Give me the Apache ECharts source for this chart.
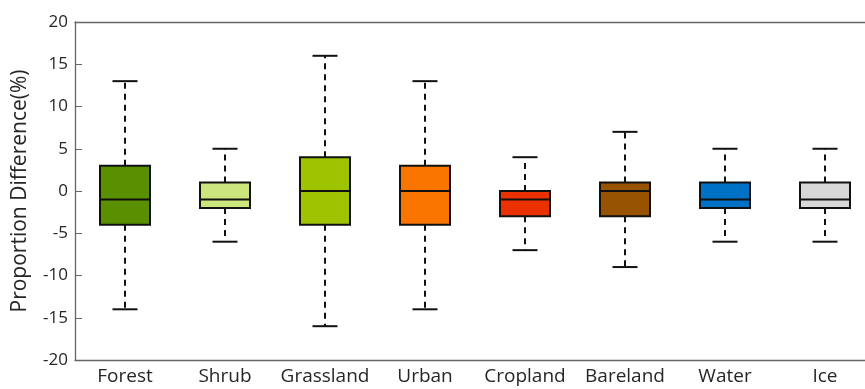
<!DOCTYPE html>
<html><head><meta charset="utf-8">
<script src="https://cdn.jsdelivr.net/npm/echarts@6/dist/echarts.min.js"></script>
<style>html,body{margin:0;padding:0;background:#fff}#c{width:865px;height:389px}</style>
</head><body><div id="c"></div>
<script>
const categories = ['Forest','Shrub','Grassland','Urban','Cropland','Bareland','Water','Ice'];
const minVals    = [-14, -6, -16, -14, -7, -9, -6, -6];
const q1Vals     = [-4, -2, -4, -4, -3, -3, -2, -2];
const medianVals = [-1, -1, 0, 0, -1, 0, -1, -1];
const q3Vals     = [3, 1, 4, 3, 0, 1, 1, 1];
const maxVals    = [13, 5, 16, 13, 4, 7, 5, 5];
const colors     = ['#5a9000','#cce67d','#9ec400','#fa7400','#ec3100','#975300','#0072c6','#d8d8d8'];
const yTicks     = [-20,-15,-10,-5,0,5,10,15,20];

const data = categories.map((c,i)=>[i,minVals[i],q1Vals[i],medianVals[i],q3Vals[i],maxVals[i]]);
const FONT = 'Open Sans';
const chart = echarts.init(document.getElementById('c'));
chart.setOption({
  animation:false,
  grid:{left:75,right:-10,top:22,bottom:29,containLabel:false,outerBoundsMode:'none'},
  xAxis:[{
    type:'category',data:categories,position:'bottom',
    axisLine:{onZero:false,lineStyle:{color:'#666',width:1.3}},
    axisTick:{inside:true,length:7,alignWithLabel:true,lineStyle:{color:'#666'}},
    axisLabel:{color:'#262626',fontFamily:FONT,fontSize:19,margin:7,interval:0,hideOverlap:false},
    splitLine:{show:false}
  },{
    type:'category',data:categories,position:'top',
    axisLine:{onZero:false,lineStyle:{color:'#666',width:1.3}},
    axisTick:{inside:true,length:7,alignWithLabel:true,lineStyle:{color:'#666'}},
    axisLabel:{show:false},splitLine:{show:false}
  }],
  yAxis:{
    type:'value',min:-20,max:20,interval:5,
    name:'Proportion Difference(%)',nameLocation:'middle',nameGap:44,
    nameTextStyle:{color:'#262626',fontFamily:FONT,fontSize:21},
    axisLine:{show:true,lineStyle:{color:'#666',width:1.3}},
    axisTick:{show:true,inside:true,length:7,lineStyle:{color:'#666'}},
    axisLabel:{color:'#262626',fontFamily:FONT,fontSize:17,margin:7,
      formatter:v=>yTicks.includes(v)?String(v):''},
    splitLine:{show:false}
  },
  series:[{
    type:'custom',
    data:data,
    encode:{x:0,y:[1,2,3,4,5]},
    renderItem:function(params,api){
      const i=api.value(0);
      const bw=api.size([1,0])[0];
      const pMin=api.coord([i,api.value(1)]);
      const pQ1=api.coord([i,api.value(2)]);
      const pMed=api.coord([i,api.value(3)]);
      const pQ3=api.coord([i,api.value(4)]);
      const pMax=api.coord([i,api.value(5)]);
      const x=pMin[0];
      const hw=bw*0.25, cw=bw*0.125;
      const dash={stroke:'#111',lineWidth:2,lineDash:[6,5]};
      const solid={stroke:'#111',lineWidth:2};
      return {type:'group',children:[
        {type:'line',shape:{x1:x,y1:pQ3[1],x2:x,y2:pMax[1]},style:dash},
        {type:'line',shape:{x1:x,y1:pQ1[1],x2:x,y2:pMin[1]},style:dash},
        {type:'line',shape:{x1:x-cw,y1:pMax[1],x2:x+cw,y2:pMax[1]},style:solid},
        {type:'line',shape:{x1:x-cw,y1:pMin[1],x2:x+cw,y2:pMin[1]},style:solid},
        {type:'rect',shape:{x:x-hw,y:pQ3[1],width:hw*2,height:pQ1[1]-pQ3[1]},
          style:{fill:colors[i],stroke:'#111',lineWidth:2}},
        {type:'line',shape:{x1:x-hw,y1:pMed[1],x2:x+hw,y2:pMed[1]},style:solid}
      ]};
    }
  }]
});
</script></body></html>
